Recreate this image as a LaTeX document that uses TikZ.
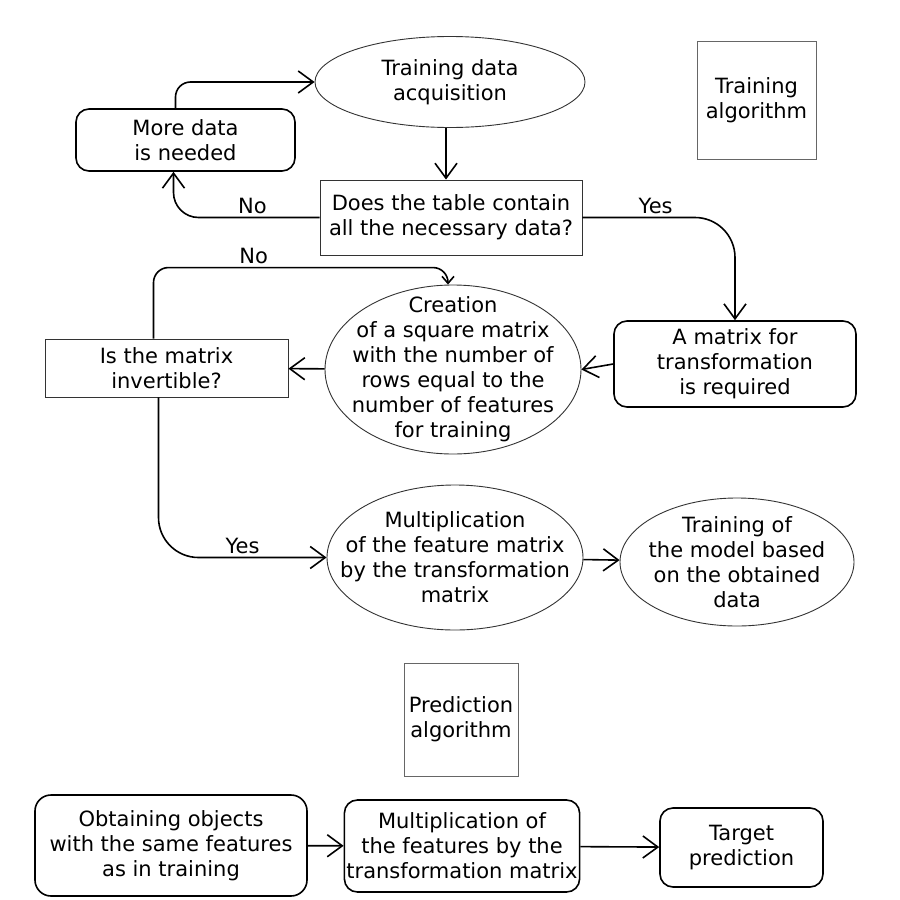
\documentclass[tikz,border=0pt]{standalone}
\usepackage{fontspec}
\setmainfont{DejaVu Sans}
\usetikzlibrary{shapes.geometric, arrows.meta}
\tikzstyle{stepbox} = [rectangle, rounded corners=13pt,
line width=1.6pt,
draw=black,
inner sep=2pt,
align=center]
\tikzstyle{question} = [rectangle,
draw=black!80,
line width=0.9pt,
inner sep=2pt,
align=center]
\tikzstyle{action} = [ellipse,
draw=black!80,
line width=0.9pt,
inner sep=-25pt, % text may reach into the ellipse
align=center]
\tikzstyle{caption} = [rectangle,
draw=black!60,
line width=0.9pt,
inner sep=2pt,
align=center]
\tikzstyle{arrow} = [line width=1.6pt,-{Straight Barb[length=15pt,width=22pt]}]
\tikzstyle{smallarrow} = [line width=1.6pt,-{Straight Barb[length=7pt,width=12pt]}]

\begin{document}
\begin{tikzpicture}[x=1pt, y=1pt, node distance=100pt, font=\fontsize{21}{25}\selectfont]
\useasboundingbox (0,0) rectangle (900,-900);

\node (acq) [action, minimum width=270pt, minimum height=91pt] at (450,-82) {Training data\\acquisition};
\node (table) [question, below of=acq, xshift=1pt, yshift=-35.5pt, minimum width=262pt, minimum height=75pt] {Does the table contain\\all the necessary data?};
\node (more) [stepbox, left of=acq, xshift=-164.5pt, yshift=-58pt, minimum width=219pt, minimum height=62pt] {More data\\is needed};
\node (trainalg) [caption, right of=acq, xshift=206.5pt, yshift=-18pt, minimum width=119pt, minimum height=118pt] {Training\\algorithm};

\node (create) [action, below of=table, xshift=2pt, yshift=-52pt, minimum width=256pt, minimum height=169pt] {Creation\\of a square matrix\\with the number of\\rows equal to the\\number of features\\for training};
\node (req) [stepbox, right of=create, xshift=182pt, yshift=5.5pt, minimum width=242pt, minimum height=86pt] {A matrix for\\transformation\\is required};
\node (inv) [question, left of=create, xshift=-186.5pt, yshift=1.5pt, minimum width=243pt, minimum height=58pt] {Is the matrix\\invertible?};

\node (mult) [action, below of=create, xshift=2pt, yshift=-88pt, minimum width=256pt, minimum height=145pt] {Multiplication\\of the feature matrix\\by the transformation\\matrix};
\node (model) [action, right of=mult, xshift=182pt, yshift=-4.5pt, minimum width=234pt, minimum height=128pt] {Training of\\the model based\\on the obtained\\data};

\node (predalg) [caption, below of=mult, xshift=6pt, yshift=-62pt, minimum width=114pt, minimum height=113pt] {Prediction\\algorithm};
\node (mult2) [stepbox, below of=predalg, xshift=1pt, yshift=-26.5pt, minimum width=234pt, minimum height=92pt] {Multiplication of\\the features by the\\transformation matrix};
\node (obtain) [stepbox, left of=mult2, xshift=-191pt, yshift=0.5pt, minimum width=272pt, minimum height=101pt, rounded corners=16pt] {Obtaining objects\\with the same features\\as in training};
\node (target) [stepbox, right of=mult2, xshift=179.5pt, yshift=-1.5pt, minimum width=163pt, minimum height=79pt] {Target\\prediction};

\draw [arrow] ([xshift=-4pt]acq.south) -- ([xshift=-5pt]table.north);
\draw [arrow, rounded corners=25pt] (table.west) -| node[pos=0.23, above] {No} ([xshift=-12pt]more.south);
\draw [arrow, rounded corners=15pt] ([xshift=-10pt]more.north) |- (acq.west);
\draw [arrow, rounded corners=40pt] (table.east) -| node[pos=0.24, above] {Yes} (req.north);

\draw [arrow] (req.west) -- (create.east);
\draw [arrow] (create) -- (inv);
\draw [smallarrow, rounded corners=15pt] ([xshift=-13pt]inv.north) -- ++(0,71) -| node[pos=0.17, above] {No} ([xshift=-5pt]create.north);
\draw [arrow, rounded corners=40pt] ([xshift=-8pt]inv.south) |- node[pos=0.75, above] {Yes} (mult.west);

\draw [arrow] (mult) -- (model);
\draw [arrow] (obtain) -- (mult2);
\draw [arrow] (mult2) -- (target);

\end{tikzpicture}
\end{document}
